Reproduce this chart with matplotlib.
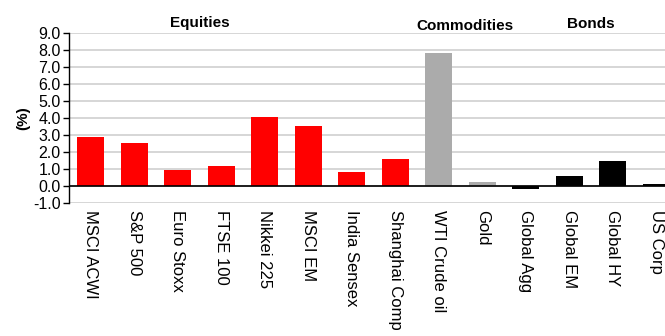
import matplotlib
matplotlib.use("Agg")
import matplotlib.pyplot as plt
import numpy as np

categories = ["MSCI ACWI", "S&P 500", "Euro Stoxx", "FTSE 100", "Nikkei 225", "MSCI EM",
              "India Sensex", "Shanghai Comp", "WTI Crude oil", "Gold", "Global Agg",
              "Global EM", "Global HY", "US Corp"]
values = [2.9, 2.55, 0.92, 1.2, 4.07, 3.52, 0.84, 1.57, 7.83, 0.23, -0.15, 0.6, 1.47, 0.13]
groups = ["Equities"] * 8 + ["Commodities"] * 2 + ["Bonds"] * 4
group_colors = {"Equities": "#FF0000", "Commodities": "#ABABAB", "Bonds": "#000000"}
yticks = [-1.0, 0.0, 1.0, 2.0, 3.0, 4.0, 5.0, 6.0, 7.0, 8.0, 9.0]

plt.rcParams['font.family'] = ['Liberation Sans', 'DejaVu Sans']

fig = plt.figure(figsize=(6.65, 3.36), dpi=100)
ax = fig.add_axes([69/665, 133/336, 609/665, 170/336])

x = np.arange(len(categories))
colors = [group_colors[g] for g in groups]
ax.bar(x, values, width=0.62, color=colors, zorder=3)

ax.set_xlim(-0.5, len(categories) - 0.5)
ax.set_ylim(-1.0, 9.0)
ax.set_yticks(yticks)
ax.set_yticklabels([f"{v:.1f}" for v in yticks], fontsize=11.5)
ax.yaxis.grid(True, color="#D0D0D0", linewidth=1.2, zorder=0)
ax.axhline(0, color="black", linewidth=1.2, zorder=4)

ax.set_xticks(x)
ax.set_xticklabels(categories, rotation=-90, fontsize=12, va="top", ha="center")
ax.tick_params(axis="x", length=0, pad=5)
ax.tick_params(axis="y", length=4, width=1, direction="out", pad=2)

for s in ["top", "right", "bottom"]:
    ax.spines[s].set_visible(False)
ax.spines["left"].set_linewidth(1.0)

ax.set_ylabel("(%)", fontsize=11, fontweight="bold", labelpad=2)

# group headers
ax.text(2.51, 9.35, "Equities", fontsize=11, fontweight="bold", ha="center", va="baseline", clip_on=False)
ax.text(8.6, 9.18, "Commodities", fontsize=11, fontweight="bold", ha="center", va="baseline", clip_on=False)
ax.text(11.5, 9.29, "Bonds", fontsize=11, fontweight="bold", ha="center", va="baseline", clip_on=False)

fig.savefig("out.png", dpi=100)
